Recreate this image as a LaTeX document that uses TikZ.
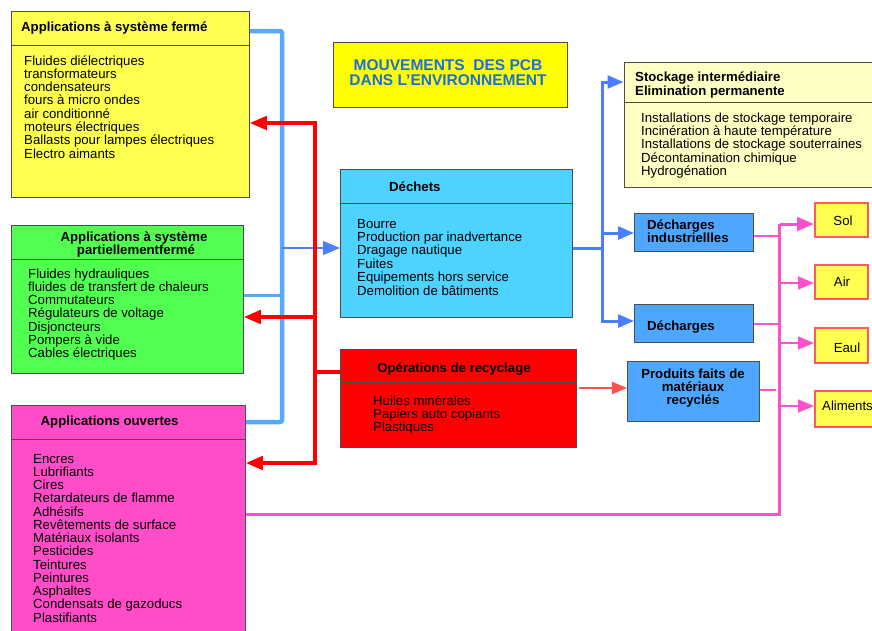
\documentclass[tikz,border=0pt]{standalone}
\usepackage{fontspec}
\setmainfont{Liberation Sans}
\usetikzlibrary{arrows.meta}
\definecolor{yelA}{RGB}{255,255,80}
\definecolor{yelT}{RGB}{255,255,0}
\definecolor{yelL}{RGB}{255,255,196}
\definecolor{grnA}{RGB}{80,255,80}
\definecolor{magA}{RGB}{255,77,201}
\definecolor{cyanA}{RGB}{77,211,255}
\definecolor{bluBox}{RGB}{77,166,255}
\definecolor{redA}{RGB}{255,0,0}
\definecolor{salm}{RGB}{255,80,80}
\definecolor{bord}{RGB}{77,77,77}
\definecolor{titB}{RGB}{30,110,216}
\definecolor{lblue}{RGB}{85,170,255}
\definecolor{dblue}{RGB}{75,125,255}
\definecolor{magL}{RGB}{255,80,205}
\definecolor{solB}{RGB}{255,90,90}
\tikzset{
  box/.style={draw=bord, line width=0.9pt, inner sep=0pt, anchor=north west},
  smallbox/.style={draw=solB, line width=1.5pt, fill=yelA, inner sep=0pt, anchor=north west},
  sepl/.style={draw=bord, line width=0.8pt},
  txt/.style={font=\fontsize{13.2}{13.4}\selectfont, inner sep=0pt},
  btxt/.style={font=\fontsize{13.2}{13.4}\selectfont\bfseries, inner sep=0pt},
  ttxt/.style={font=\fontsize{15.5}{15.5}\selectfont\bfseries, text=titB, inner sep=0pt},
  tri/.style={-{Triangle[length=#1,width=0.8*#1]}},
  redline/.style={draw=redA, line width=3.2pt},
  lbl/.style={draw=lblue, line width=4.5pt, rounded corners=2pt},
  dbl/.style={draw=dblue, line width=3pt},
  magline/.style={draw=magL, line width=#1},
}
\begin{document}
\begin{tikzpicture}[x=1pt,y=-1pt]
\useasboundingbox (0,0) rectangle (872,630);

% ---------- Box 1
\node[box, fill=yelA, minimum width=238pt, minimum height=186pt] (b1) at (11,11) {};
\draw[sepl] (11,45) -- (249,45);
\node[btxt, anchor=base west] (b1t) at (21,31.5) {Applications à système fermé};
\foreach \s [count=\i from 0] in {Fluides diélectriques, transformateurs, condensateurs, fours à micro ondes, air conditionné, moteurs électriques, Ballasts pour lampes électriques, Electro aimants}
  \node[txt, anchor=base west] (b1i\i) at (24,{65+13.3*\i}) {\s};

% ---------- Box 2
\node[box, fill=grnA, minimum width=232pt, minimum height=148pt] (b2) at (11,225) {};
\draw[sepl] (11,259) -- (243,259);
\node[btxt, anchor=base] (b2t1) at (134,241) {Applications à système};
\node[btxt, anchor=base] (b2t2) at (136,254) {partiellementfermé};
\foreach \s [count=\i from 0] in {Fluides hydrauliques, fluides de transfert de chaleurs, Commutateurs, Régulateurs de voltage, Disjoncteurs, Pompers à vide, Cables électriques}
  \node[txt, anchor=base west] (b2i\i) at (28,{278+13.3*\i}) {\s};

% ---------- Box 3
\node[box, fill=magA, minimum width=234pt, minimum height=232pt] (b3) at (11,405) {};
\draw[sepl] (11,439) -- (245,439);
\node[btxt, anchor=base west] (b3t) at (40.5,425) {Applications ouvertes};
\foreach \s [count=\i from 0] in {Encres, Lubrifiants, Cires, Retardateurs de flamme, Adhésifs, Revêtements de surface, Matériaux isolants, Pesticides, Teintures, Peintures, Asphaltes, Condensats de gazoducs, Plastifiants}
  \node[txt, anchor=base west] (b3i\i) at (33,{463+13.25*\i}) {\s};

% ---------- Title
\node[box, fill=yelT, minimum width=234pt, minimum height=65pt] (tit) at (333,42) {};
\node[ttxt, anchor=base] (tit1) at (448,70) {MOUVEMENTS\ \ DES PCB};
\node[ttxt, anchor=base] (tit2) at (448,85.5) {DANS L’ENVIRONNEMENT};

% ---------- Dechets
\node[box, fill=cyanA, minimum width=232pt, minimum height=148pt] (dec) at (340,168.5) {};
\draw[sepl] (340,203) -- (572,203);
\node[btxt, anchor=base west] (dect) at (389,191) {Déchets};
\foreach \s [count=\i from 0] in {Bourre, Production par inadvertance, Dragage nautique, Fuites, Equipements hors service, Demolition de bâtiments}
  \node[txt, anchor=base west] (deci\i) at (357,{228+13.4*\i}) {\s};

% ---------- Recyclage
\node[box, fill=redA, minimum width=236pt, minimum height=98pt] (rec) at (340,349) {};
\draw[sepl] (340,382) -- (576,382);
\node[btxt, anchor=base] (rect) at (454,372) {Opérations de recyclage};
\foreach \s [count=\i from 0] in {Huiles minérales, Papiers auto copiants, Plastiques}
  \node[txt, anchor=base west] (reci\i) at (373,{405+13.4*\i}) {\s};

% ---------- Stockage
\node[box, fill=yelL, minimum width=260pt, minimum height=125pt] (sto) at (623.5,62) {};
\draw[sepl] (623.5,102) -- (884,102);
\node[btxt, anchor=base west] (stot1) at (635,81.5) {Stockage intermédiaire};
\node[btxt, anchor=base west] (stot2) at (635,95) {Elimination permanente};
\foreach \s [count=\i from 0] in {Installations de stockage temporaire, Incinération à haute température, Installations de stockage souterraines, Décontamination chimique, Hydrogénation}
  \node[txt, anchor=base west] (stoi\i) at (641,{122+13.4*\i}) {\s};

% ---------- Decharges
\node[box, fill=bluBox, minimum width=119pt, minimum height=38pt] (di) at (634,213) {};
\node[btxt, anchor=base west] (dit1) at (647,229.5) {Décharges};
\node[btxt, anchor=base west] (dit2) at (647,242.5) {industriellles};
\node[box, fill=bluBox, minimum width=119pt, minimum height=38pt] (dch) at (634,304) {};
\node[btxt, anchor=base west] (dcht) at (647,330.5) {Décharges};
\node[box, fill=bluBox, minimum width=132pt, minimum height=60pt] (prod) at (627,361) {};
\node[btxt, anchor=base] (prt1) at (693,378) {Produits faits de};
\node[btxt, anchor=base] (prt2) at (693,391) {matériaux};
\node[btxt, anchor=base] (prt3) at (693,404) {recyclés};

% ---------- Environment boxes
\node[smallbox, minimum width=53pt, minimum height=34pt] (sol) at (814,202) {};
\node[txt] (solt) at (843,221) {Sol};
\node[smallbox, minimum width=53pt, minimum height=34pt] (air) at (814,264) {};
\node[txt] (airt) at (842,282) {Air};
\node[smallbox, minimum width=53pt, minimum height=35pt] (eau) at (814,327) {};
\node[txt] (eaut) at (847,348) {Eaul};
\node[smallbox, minimum width=70pt, minimum height=36pt] (ali) at (814,390) {};
\node[txt, anchor=west] (alit) at (822,406) {Aliments};

% ---------- Connectors: light blue bus
\coordinate (lbx) at (282,0);
\draw[lbl] (b1.east |- 0,31) -- (lbx |- 0,31) -- (lbx |- 0,422) -- (b3.east |- 0,422);
\draw[lblue, line width=3pt] (b2.east |- 0,295) -- (lbx |- 0,295);
\draw[dblue, line width=2.5pt, tri=17pt] (lbx |- 0,248) -- (dec.west |- 0,248);

% ---------- red bus
\coordinate (rx) at (315,0);
\draw[redline, tri=17pt] (rec.west |- 0,372) -- (rx |- 0,372) -- (rx |- 0,123) -- (b1.east |- 0,123);
\draw[redline, tri=17pt] (rx |- 0,372) -- (rx |- 0,463) -- (b3.east |- 0,463);
\draw[redline, tri=17pt] (rx |- 0,317) -- (b2.east |- 0,317);

% ---------- dark blue from dechets
\coordinate (bx) at (602,0);
\draw[dbl] (dec.east |- 0,248) -- (bx |- 0,248);
\draw[dbl, tri=16pt] (bx |- 0,248) -- (bx |- 0,82) -- (sto.west |- 0,82);
\draw[dbl, tri=16pt] (bx |- 0,248) -- (bx |- 0,321) -- (dch.west |- 0,321);
\draw[dbl, tri=16pt] (bx |- 0,233) -- (di.west |- 0,233);

% ---------- salmon
\draw[salm, line width=2pt, tri=15pt, shorten <=2pt] (rec.east |- 0,388) -- (prod.west |- 0,388);

% ---------- magenta
\coordinate (mx) at (779.5,0);
\draw[magline=3pt] (b3.east |- 0,514) -- (mx |- 0,514) -- (mx |- 0,224);
\draw[magline=2pt] (di.east |- 0,236) -- (mx |- 0,236);
\draw[magline=2pt] (dch.east |- 0,324) -- (mx |- 0,324);
\draw[magline=2pt] (prod.east |- 0,390) -- (776,390);
\draw[magline=3pt, tri=17pt] (mx |- 0,224) -- (sol.west |- 0,224);
\draw[magline=2.5pt, tri=16pt] (mx |- 0,283) -- (air.west |- 0,283);
\draw[magline=2.5pt, tri=16pt] (mx |- 0,343) -- (eau.west |- 0,343);
\draw[magline=2.5pt, tri=16pt] (mx |- 0,406) -- (ali.west |- 0,406);
\end{tikzpicture}
\end{document}
